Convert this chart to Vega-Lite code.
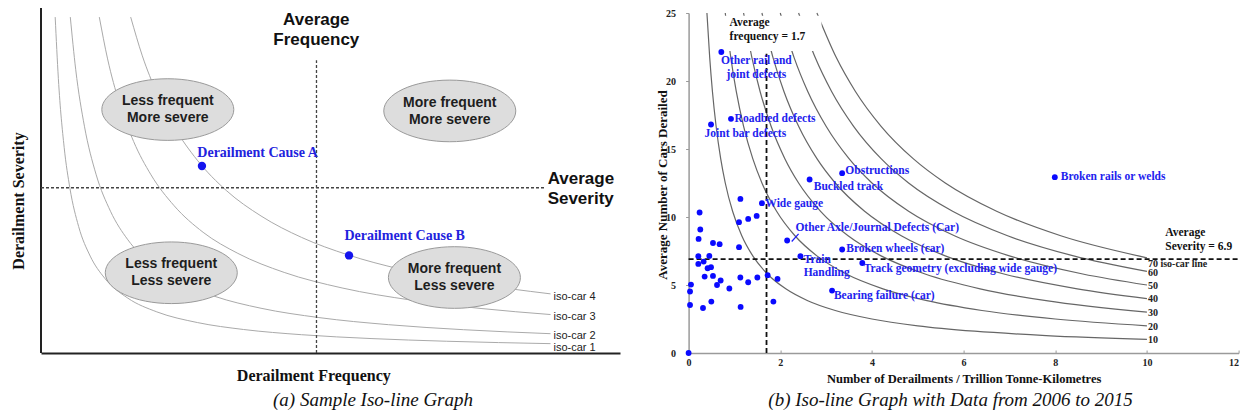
{
  "$schema": "https://vega.github.io/schema/vega-lite/v6.json",
  "padding": {"left": 10, "top": 6, "right": 0, "bottom": 0},
  "spacing": 68.6,
  "bounds": "flush",
  "config": {"view": {"stroke": null}, "axis": {"grid": false}},
  "datasets": {
    "aCurves": [
      {"curve": "iso-car 1", "x": 0.245, "y": 9.88}, {"curve": "iso-car 1", "x": 0.3, "y": 8.07}, {"curve": "iso-car 1", "x": 0.4, "y": 6.05}, {"curve": "iso-car 1", "x": 0.5, "y": 4.84}, {"curve": "iso-car 1", "x": 0.65, "y": 3.72}, {"curve": "iso-car 1", "x": 0.85, "y": 2.85}, {"curve": "iso-car 1", "x": 1.1, "y": 2.2}, {"curve": "iso-car 1", "x": 1.5, "y": 1.613}, {"curve": "iso-car 1", "x": 2, "y": 1.21}, {"curve": "iso-car 1", "x": 2.7, "y": 0.896}, {"curve": "iso-car 1", "x": 3.5, "y": 0.691}, {"curve": "iso-car 1", "x": 4.5, "y": 0.538}, {"curve": "iso-car 1", "x": 5.7, "y": 0.425}, {"curve": "iso-car 1", "x": 7, "y": 0.346}, {"curve": "iso-car 1", "x": 8.8, "y": 0.275},
      {"curve": "iso-car 2", "x": 0.506, "y": 9.88}, {"curve": "iso-car 2", "x": 0.6, "y": 8.33}, {"curve": "iso-car 2", "x": 0.75, "y": 6.67}, {"curve": "iso-car 2", "x": 0.95, "y": 5.26}, {"curve": "iso-car 2", "x": 1.2, "y": 4.17}, {"curve": "iso-car 2", "x": 1.5, "y": 3.33}, {"curve": "iso-car 2", "x": 1.9, "y": 2.63}, {"curve": "iso-car 2", "x": 2.4, "y": 2.08}, {"curve": "iso-car 2", "x": 3, "y": 1.667}, {"curve": "iso-car 2", "x": 3.8, "y": 1.316}, {"curve": "iso-car 2", "x": 4.8, "y": 1.042}, {"curve": "iso-car 2", "x": 6, "y": 0.833}, {"curve": "iso-car 2", "x": 7.3, "y": 0.685}, {"curve": "iso-car 2", "x": 8.8, "y": 0.568},
      {"curve": "iso-car 3", "x": 1.007, "y": 9.88}, {"curve": "iso-car 3", "x": 1.15, "y": 8.65}, {"curve": "iso-car 3", "x": 1.35, "y": 7.37}, {"curve": "iso-car 3", "x": 1.6, "y": 6.22}, {"curve": "iso-car 3", "x": 1.9, "y": 5.24}, {"curve": "iso-car 3", "x": 2.3, "y": 4.33}, {"curve": "iso-car 3", "x": 2.8, "y": 3.55}, {"curve": "iso-car 3", "x": 3.4, "y": 2.93}, {"curve": "iso-car 3", "x": 4.2, "y": 2.37}, {"curve": "iso-car 3", "x": 5.2, "y": 1.913}, {"curve": "iso-car 3", "x": 6.4, "y": 1.555}, {"curve": "iso-car 3", "x": 7.6, "y": 1.309}, {"curve": "iso-car 3", "x": 8.8, "y": 1.131},
      {"curve": "iso-car 4", "x": 1.549, "y": 9.88}, {"curve": "iso-car 4", "x": 1.75, "y": 8.74}, {"curve": "iso-car 4", "x": 2, "y": 7.65}, {"curve": "iso-car 4", "x": 2.3, "y": 6.65}, {"curve": "iso-car 4", "x": 2.7, "y": 5.67}, {"curve": "iso-car 4", "x": 3.2, "y": 4.78}, {"curve": "iso-car 4", "x": 3.8, "y": 4.03}, {"curve": "iso-car 4", "x": 4.5, "y": 3.4}, {"curve": "iso-car 4", "x": 5.3, "y": 2.887}, {"curve": "iso-car 4", "x": 6.2, "y": 2.468}, {"curve": "iso-car 4", "x": 7.4, "y": 2.068}, {"curve": "iso-car 4", "x": 8.8, "y": 1.739}
    ],
    "aZones": [
      {"x": 2.19, "y": 7.16, "label": "Less frequent\nMore severe"},
      {"x": 7.06, "y": 7.12, "label": "More frequent\nMore severe"},
      {"x": 2.25, "y": 2.36, "label": "Less frequent\nLess severe"},
      {"x": 7.14, "y": 2.22, "label": "More frequent\nLess severe"}
    ],
    "aCauses": [
      {"cause": "Derailment  Cause  A", "x": 2.78, "y": 5.5, "lx": 2.7, "ly": 5.88},
      {"cause": "Derailment  Cause  B", "x": 5.32, "y": 2.87, "lx": 5.24, "ly": 3.44}
    ],
    "aIsoLabels": [
      {"label": "iso-car 4", "x": 8.8, "y": 1.647},
      {"label": "iso-car 3", "x": 8.8, "y": 1.059},
      {"label": "iso-car 2", "x": 8.8, "y": 0.49},
      {"label": "iso-car 1", "x": 8.8, "y": 0.156}
    ],
    "bCurves": [
      {"k": 10, "x": 0.4, "y": 25}, {"k": 10, "x": 0.46, "y": 21.74}, {"k": 10, "x": 0.52, "y": 19.23}, {"k": 10, "x": 0.6, "y": 16.67}, {"k": 10, "x": 0.7, "y": 14.29}, {"k": 10, "x": 0.8, "y": 12.5}, {"k": 10, "x": 0.96, "y": 10.42}, {"k": 10, "x": 1.16, "y": 8.62}, {"k": 10, "x": 1.4, "y": 7.14}, {"k": 10, "x": 1.72, "y": 5.81}, {"k": 10, "x": 2.12, "y": 4.72}, {"k": 10, "x": 2.6, "y": 3.846}, {"k": 10, "x": 3.2, "y": 3.125}, {"k": 10, "x": 4, "y": 2.5}, {"k": 10, "x": 5, "y": 2.0}, {"k": 10, "x": 6.24, "y": 1.603}, {"k": 10, "x": 7.8, "y": 1.282}, {"k": 10, "x": 10, "y": 1.0},
      {"k": 20, "x": 0.8, "y": 25}, {"k": 20, "x": 0.92, "y": 21.74}, {"k": 20, "x": 1.04, "y": 19.23}, {"k": 20, "x": 1.2, "y": 16.67}, {"k": 20, "x": 1.4, "y": 14.29}, {"k": 20, "x": 1.6, "y": 12.5}, {"k": 20, "x": 1.92, "y": 10.42}, {"k": 20, "x": 2.32, "y": 8.62}, {"k": 20, "x": 2.8, "y": 7.14}, {"k": 20, "x": 3.44, "y": 5.81}, {"k": 20, "x": 4.24, "y": 4.72}, {"k": 20, "x": 5.2, "y": 3.846}, {"k": 20, "x": 6.4, "y": 3.125}, {"k": 20, "x": 8, "y": 2.5}, {"k": 20, "x": 10, "y": 2.0},
      {"k": 30, "x": 1.2, "y": 25}, {"k": 30, "x": 1.38, "y": 21.74}, {"k": 30, "x": 1.56, "y": 19.23}, {"k": 30, "x": 1.8, "y": 16.67}, {"k": 30, "x": 2.1, "y": 14.29}, {"k": 30, "x": 2.4, "y": 12.5}, {"k": 30, "x": 2.88, "y": 10.42}, {"k": 30, "x": 3.48, "y": 8.62}, {"k": 30, "x": 4.2, "y": 7.14}, {"k": 30, "x": 5.16, "y": 5.81}, {"k": 30, "x": 6.36, "y": 4.72}, {"k": 30, "x": 7.8, "y": 3.846}, {"k": 30, "x": 10, "y": 3.0},
      {"k": 40, "x": 1.6, "y": 25}, {"k": 40, "x": 1.84, "y": 21.74}, {"k": 40, "x": 2.08, "y": 19.23}, {"k": 40, "x": 2.4, "y": 16.67}, {"k": 40, "x": 2.8, "y": 14.29}, {"k": 40, "x": 3.2, "y": 12.5}, {"k": 40, "x": 3.84, "y": 10.42}, {"k": 40, "x": 4.64, "y": 8.62}, {"k": 40, "x": 5.6, "y": 7.14}, {"k": 40, "x": 6.88, "y": 5.81}, {"k": 40, "x": 8.48, "y": 4.72}, {"k": 40, "x": 10, "y": 4.0},
      {"k": 50, "x": 2.0, "y": 25}, {"k": 50, "x": 2.3, "y": 21.74}, {"k": 50, "x": 2.6, "y": 19.23}, {"k": 50, "x": 3.0, "y": 16.67}, {"k": 50, "x": 3.5, "y": 14.29}, {"k": 50, "x": 4.0, "y": 12.5}, {"k": 50, "x": 4.8, "y": 10.42}, {"k": 50, "x": 5.8, "y": 8.62}, {"k": 50, "x": 7.0, "y": 7.14}, {"k": 50, "x": 8.6, "y": 5.81}, {"k": 50, "x": 10, "y": 5.0},
      {"k": 60, "x": 2.4, "y": 25}, {"k": 60, "x": 2.76, "y": 21.74}, {"k": 60, "x": 3.12, "y": 19.23}, {"k": 60, "x": 3.6, "y": 16.67}, {"k": 60, "x": 4.2, "y": 14.29}, {"k": 60, "x": 4.8, "y": 12.5}, {"k": 60, "x": 5.76, "y": 10.42}, {"k": 60, "x": 6.96, "y": 8.62}, {"k": 60, "x": 8.4, "y": 7.14}, {"k": 60, "x": 10, "y": 6.0},
      {"k": 70, "x": 2.8, "y": 25}, {"k": 70, "x": 3.22, "y": 21.74}, {"k": 70, "x": 3.64, "y": 19.23}, {"k": 70, "x": 4.2, "y": 16.67}, {"k": 70, "x": 4.9, "y": 14.29}, {"k": 70, "x": 5.6, "y": 12.5}, {"k": 70, "x": 6.72, "y": 10.42}, {"k": 70, "x": 8.12, "y": 8.62}, {"k": 70, "x": 10, "y": 7.0}
    ],
    "bPoints": [
      {"x": 0.714, "y": 22.13}, {"x": 0.489, "y": 16.8}, {"x": 0.925, "y": 17.22}, {"x": 3.35, "y": 13.22},
      {"x": 2.64, "y": 12.76}, {"x": 7.99, "y": 12.93}, {"x": 1.6, "y": 11.02}, {"x": 2.15, "y": 8.27},
      {"x": 3.35, "y": 7.61}, {"x": 2.44, "y": 7.12}, {"x": 3.79, "y": 6.62}, {"x": 3.13, "y": 4.59},
      {"x": 1.13, "y": 11.33}, {"x": 0.24, "y": 10.33}, {"x": 1.1, "y": 9.62}, {"x": 1.3, "y": 9.86},
      {"x": 1.485, "y": 10.08}, {"x": 0.255, "y": 9.08}, {"x": 0.218, "y": 8.39}, {"x": 0.532, "y": 8.09},
      {"x": 0.677, "y": 8.0}, {"x": 1.1, "y": 7.78}, {"x": 0.212, "y": 7.12}, {"x": 0.452, "y": 7.14},
      {"x": 0.212, "y": 6.55}, {"x": 0.328, "y": 6.72}, {"x": 0.415, "y": 6.23}, {"x": 0.489, "y": 6.31},
      {"x": 0.35, "y": 5.62}, {"x": 0.532, "y": 5.67}, {"x": 0.699, "y": 5.33}, {"x": 0.62, "y": 5.0},
      {"x": 0.889, "y": 4.74}, {"x": 0.052, "y": 5.03}, {"x": 0.031, "y": 4.52}, {"x": 0.031, "y": 3.53},
      {"x": 0.314, "y": 3.31}, {"x": 0.496, "y": 3.78}, {"x": 1.129, "y": 5.55}, {"x": 1.3, "y": 5.2},
      {"x": 1.5, "y": 5.55}, {"x": 1.725, "y": 5.72}, {"x": 1.94, "y": 5.45}, {"x": 1.135, "y": 3.39},
      {"x": 1.85, "y": 3.78}, {"x": 0, "y": 0}
    ],
    "bCauseLabels": [
      {"label": "Roadbed defects", "x": 1.004, "y": 17.21},
      {"label": "Joint bar defects", "x": 0.349, "y": 16.07},
      {"label": "Obstructions", "x": 3.42, "y": 13.41},
      {"label": "Buckled track", "x": 2.73, "y": 12.24},
      {"label": "Wide gauge", "x": 1.675, "y": 10.96},
      {"label": "Other Axle/Journal Defects (Car)", "x": 2.33, "y": 9.2},
      {"label": "Broken wheels (car)", "x": 3.44, "y": 7.65},
      {"label": "Train\nHandling", "x": 2.51, "y": 6.84},
      {"label": "Track geometry (excluding wide gauge)", "x": 3.82, "y": 6.18},
      {"label": "Bearing failure (car)", "x": 3.17, "y": 4.22},
      {"label": "Broken rails or welds", "x": 8.12, "y": 12.93}
    ],
    "bIsoLabels": [
      {"label": "70 iso-car line", "x": 10, "y": 6.55},
      {"label": "60", "x": 10, "y": 5.86},
      {"label": "50", "x": 10, "y": 4.95},
      {"label": "40", "x": 10, "y": 3.96},
      {"label": "30", "x": 10, "y": 2.97},
      {"label": "20", "x": 10, "y": 1.94},
      {"label": "10", "x": 10, "y": 0.96}
    ]
  },
  "hconcat": [
    {
      "width": 579,
      "height": 340,
      "title": {
        "text": "(a) Sample Iso-line Graph", "orient": "bottom", "frame": "group", "anchor": "middle",
        "dx": 42.5, "offset": 8, "font": "Liberation Serif", "fontSize": 19,
        "fontStyle": "italic", "fontWeight": "normal", "color": "#111111"
      },
      "layer": [
        {
          "data": {"name": "aCurves"},
          "mark": {"type": "line", "color": "#aaaaaa", "strokeWidth": 1, "interpolate": "monotone"},
          "encoding": {
            "x": {
              "field": "x", "type": "quantitative",
              "scale": {"domain": [0, 10], "nice": false, "zero": false},
              "axis": {
                "title": "Derailment Frequency", "ticks": false, "labels": false,
                "domainColor": "#222222", "domainWidth": 2,
                "titleFont": "Liberation Serif", "titleFontSize": 16, "titleFontWeight": "bold", "titleColor": "#111111",
                "titleX": 272.3, "titleY": 22, "titleAlign": "center", "titleBaseline": "middle"
              }
            },
            "y": {
              "field": "y", "type": "quantitative",
              "scale": {"domain": [0, 10], "nice": false, "zero": false},
              "axis": {
                "title": "Derailment Severity", "ticks": false, "labels": false, "domain": false,
                "titleFont": "Liberation Serif", "titleFontSize": 16, "titleFontWeight": "bold", "titleColor": "#111111",
                "titleX": -23, "titleY": 187.5, "titleAngle": 270, "titleAlign": "center", "titleBaseline": "middle"
              }
            },
            "detail": {"field": "curve"}
          }
        },
        {
          "data": {"values": [{"x": 0, "y": 0, "x2": 0, "y2": 10.15}]},
          "mark": {"type": "rule", "color": "#222222", "strokeWidth": 2},
          "encoding": {
            "x": {"field": "x", "type": "quantitative"},
            "y": {"field": "y", "type": "quantitative"},
            "x2": {"field": "x2"},
            "y2": {"field": "y2"}
          }
        },
        {
          "data": {"values": [
            {"x": 4.758, "y": 0, "x2": 4.758, "y2": 8.61},
            {"x": 0, "y": 4.86, "x2": 8.71, "y2": 4.86}
          ]},
          "mark": {"type": "rule", "color": "#444444", "strokeWidth": 1.3, "strokeDash": [3, 2]},
          "encoding": {
            "x": {"field": "x", "type": "quantitative"},
            "y": {"field": "y", "type": "quantitative"},
            "x2": {"field": "x2"},
            "y2": {"field": "y2"}
          }
        },
        {
          "data": {"name": "aZones"},
          "mark": {
            "type": "point", "filled": true, "size": 17424, "opacity": 1,
            "shape": "M -1 0 C -1 -0.258 -0.552 -0.467 0 -0.467 C 0.552 -0.467 1 -0.258 1 0 C 1 0.258 0.552 0.467 0 0.467 C -0.552 0.467 -1 0.258 -1 0 Z",
            "fill": "#dddddd", "stroke": "#9a9a9a", "strokeWidth": 1
          },
          "encoding": {
            "x": {"field": "x", "type": "quantitative"},
            "y": {"field": "y", "type": "quantitative"}
          }
        },
        {
          "data": {"name": "aZones"},
          "mark": {
            "type": "text", "lineBreak": "\n", "lineHeight": 17, "align": "center", "baseline": "middle", "dy": -8.4,
            "font": "Liberation Sans", "fontSize": 14, "fontWeight": "bold", "color": "#1e1e1e"
          },
          "encoding": {
            "x": {"field": "x", "type": "quantitative"},
            "y": {"field": "y", "type": "quantitative"},
            "text": {"field": "label"}
          }
        },
        {
          "data": {"name": "aCauses"},
          "mark": {"type": "circle", "size": 70, "color": "#1414ee", "opacity": 1},
          "encoding": {
            "x": {"field": "x", "type": "quantitative"},
            "y": {"field": "y", "type": "quantitative"}
          }
        },
        {
          "data": {"name": "aCauses"},
          "mark": {
            "type": "text", "align": "left", "baseline": "middle",
            "font": "Liberation Serif", "fontSize": 14, "fontWeight": "bold", "color": "#2222dd"
          },
          "encoding": {
            "x": {"field": "lx", "type": "quantitative"},
            "y": {"field": "ly", "type": "quantitative"},
            "text": {"field": "cause"}
          }
        },
        {
          "data": {"name": "aIsoLabels"},
          "mark": {
            "type": "text", "align": "left", "baseline": "middle", "dx": 3,
            "font": "Liberation Sans", "fontSize": 11, "color": "#222222"
          },
          "encoding": {
            "x": {"field": "x", "type": "quantitative"},
            "y": {"field": "y", "type": "quantitative"},
            "text": {"field": "label"}
          }
        },
        {
          "data": {"values": [{"x": 4.755, "y": 9.5, "label": "Average\nFrequency"}]},
          "mark": {
            "type": "text", "lineBreak": "\n", "lineHeight": 19.5, "align": "center", "baseline": "middle", "dy": -9.7,
            "font": "Liberation Sans", "fontSize": 17, "fontWeight": "bold", "color": "#111111"
          },
          "encoding": {
            "x": {"field": "x", "type": "quantitative"},
            "y": {"field": "y", "type": "quantitative"},
            "text": {"field": "label"}
          }
        },
        {
          "data": {"values": [{"x": 8.75, "y": 4.83, "label": "Average\nSeverity"}]},
          "mark": {
            "type": "text", "lineBreak": "\n", "lineHeight": 20, "align": "left", "baseline": "middle", "dy": -10,
            "font": "Liberation Sans", "fontSize": 17, "fontWeight": "bold", "color": "#111111"
          },
          "encoding": {
            "x": {"field": "x", "type": "quantitative"},
            "y": {"field": "y", "type": "quantitative"},
            "text": {"field": "label"}
          }
        }
      ]
    },
    {
      "width": 550,
      "height": 340,
      "title": {
        "text": "(b) Iso-line Graph with Data from 2006 to 2015", "orient": "bottom", "frame": "group", "anchor": "middle",
        "dx": -13, "offset": 6, "font": "Liberation Serif", "fontSize": 19,
        "fontStyle": "italic", "fontWeight": "normal", "color": "#111111"
      },
      "layer": [
        {
          "data": {"name": "bCurves"},
          "mark": {"type": "line", "color": "#666666", "strokeWidth": 1.2, "interpolate": "monotone"},
          "encoding": {
            "x": {
              "field": "x", "type": "quantitative",
              "scale": {"domain": [0, 12], "nice": false, "zero": false},
              "axis": {
                "title": "Number of Derailments / Trillion Tonne-Kilometres",
                "values": [0, 2, 4, 6, 8, 10, 12],
                "domainColor": "#9a9a9a", "domainWidth": 1.5, "tickColor": "#9a9a9a", "tickSize": -3,
                "labelFont": "Liberation Serif", "labelFontSize": 10, "labelFontWeight": "bold", "labelColor": "#222222",
                "labelPadding": 7, "labelFlush": false,
                "labelAlign": {"condition": {"test": "datum.value >= 12", "value": "right"}, "value": "center"},
                "titleFont": "Liberation Serif", "titleFontSize": 12.5, "titleFontWeight": "bold", "titleColor": "#111111",
                "titleX": 275, "titleY": 25.5, "titleAlign": "center", "titleBaseline": "middle"
              }
            },
            "y": {
              "field": "y", "type": "quantitative",
              "scale": {"domain": [0, 25], "nice": false, "zero": false},
              "axis": {
                "title": "Average Number of Cars Derailed",
                "values": [0, 5, 10, 15, 20, 25],
                "domainColor": "#9a9a9a", "domainWidth": 1.5, "tickColor": "#9a9a9a", "tickSize": 3,
                "labelFont": "Liberation Serif", "labelFontSize": 10, "labelFontWeight": "bold", "labelColor": "#222222",
                "labelPadding": 10, "labelFlush": false,
                "titleFont": "Liberation Serif", "titleFontSize": 13, "titleFontWeight": "bold", "titleColor": "#111111",
                "titleX": -26.6, "titleY": 171.5, "titleAngle": 270, "titleAlign": "center", "titleBaseline": "middle"
              }
            },
            "detail": {"field": "k"}
          }
        },
        {
          "data": {"values": [{"x": 0.7, "x2": 2.9, "y": 22.2, "y2": 24.8}]},
          "mark": {"type": "rect", "color": "#ffffff", "opacity": 1},
          "encoding": {
            "x": {"field": "x", "type": "quantitative"},
            "x2": {"field": "x2"},
            "y": {"field": "y", "type": "quantitative"},
            "y2": {"field": "y2"}
          }
        },
        {
          "data": {"values": [
            {"x": 1.7, "y": 0, "x2": 1.7, "y2": 22.0},
            {"x": 0, "y": 6.9, "x2": 12, "y2": 6.9}
          ]},
          "mark": {"type": "rule", "color": "#111111", "strokeWidth": 1.8, "strokeDash": [5, 3]},
          "encoding": {
            "x": {"field": "x", "type": "quantitative"},
            "y": {"field": "y", "type": "quantitative"},
            "x2": {"field": "x2"},
            "y2": {"field": "y2"}
          }
        },
        {
          "data": {"values": [{"x": 2.4, "y": 8.76, "x2": 2.25, "y2": 8.2}]},
          "mark": {"type": "rule", "color": "#1a1aff", "strokeWidth": 1.2},
          "encoding": {
            "x": {"field": "x", "type": "quantitative"},
            "y": {"field": "y", "type": "quantitative"},
            "x2": {"field": "x2"},
            "y2": {"field": "y2"}
          }
        },
        {
          "data": {"name": "bPoints"},
          "mark": {"type": "circle", "size": 34, "color": "#0a0aff", "opacity": 1},
          "encoding": {
            "x": {"field": "x", "type": "quantitative"},
            "y": {"field": "y", "type": "quantitative"}
          }
        },
        {
          "data": {"name": "bCauseLabels"},
          "mark": {
            "type": "text", "align": "left", "baseline": "middle", "lineBreak": "\n", "lineHeight": 13.3,
            "font": "Liberation Serif", "fontSize": 11.5, "fontWeight": "bold", "color": "#2222ee"
          },
          "encoding": {
            "x": {"field": "x", "type": "quantitative"},
            "y": {"field": "y", "type": "quantitative"},
            "text": {"field": "label"}
          }
        },
        {
          "data": {"values": [{"x": 1.478, "y": 20.95, "label": "Other rail and\njoint defects"}]},
          "mark": {
            "type": "text", "align": "center", "baseline": "middle", "lineBreak": "\n", "lineHeight": 13.4, "dy": -6.7,
            "font": "Liberation Serif", "fontSize": 11.5, "fontWeight": "bold", "color": "#2222ee"
          },
          "encoding": {
            "x": {"field": "x", "type": "quantitative"},
            "y": {"field": "y", "type": "quantitative"},
            "text": {"field": "label"}
          }
        },
        {
          "data": {"values": [
            {"x": 0.895, "y": 23.75, "label": "Average\nfrequency = 1.7"},
            {"x": 10.4, "y": 8.29, "label": "Average\nSeverity = 6.9"}
          ]},
          "mark": {
            "type": "text", "align": "left", "baseline": "middle", "lineBreak": "\n", "lineHeight": 13.6, "dy": -6.8,
            "font": "Liberation Serif", "fontSize": 11.5, "fontWeight": "bold", "color": "#111111"
          },
          "encoding": {
            "x": {"field": "x", "type": "quantitative"},
            "y": {"field": "y", "type": "quantitative"},
            "text": {"field": "label"}
          }
        },
        {
          "data": {"name": "bIsoLabels"},
          "mark": {
            "type": "text", "align": "left", "baseline": "middle", "dx": 1,
            "font": "Liberation Serif", "fontSize": 10, "fontWeight": "bold", "color": "#222222"
          },
          "encoding": {
            "x": {"field": "x", "type": "quantitative"},
            "y": {"field": "y", "type": "quantitative"},
            "text": {"field": "label"}
          }
        }
      ]
    }
  ]
}
